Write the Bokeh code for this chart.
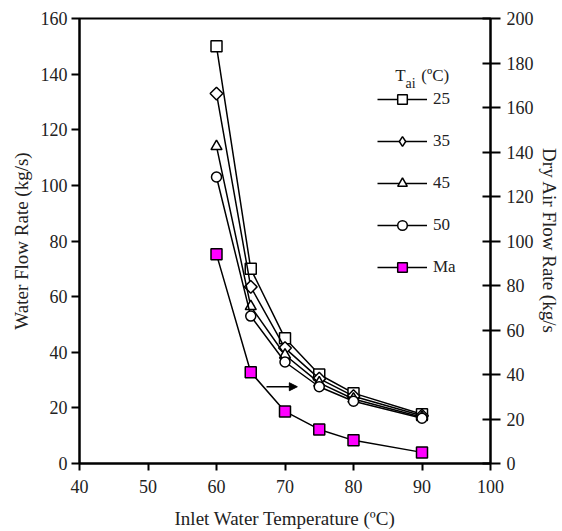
import math
from bokeh.plotting import figure
from bokeh.models import Range1d, LinearAxis, Legend, LegendItem, Label, Arrow, NormalHead, FixedTicker
from bokeh.embed import file_html
from bokeh.resources import INLINE

# Data
t_inlet = [60, 65, 70, 75, 80, 90]
w25 = [150, 70, 45, 32, 25.3, 17.7]
w35 = [133, 63.5, 41.5, 30.5, 24.2, 17.2]
w45 = [114, 56.5, 39.0, 29.0, 23.2, 16.6]
w50 = [103, 53, 36.5, 27.6, 22.4, 16.3]
ma = [94, 41, 23.4, 15.3, 10.4, 5.0]   # dry air flow rate, right axis
x_ticks = [40, 50, 60, 70, 80, 90, 100]
yl_ticks = [0, 20, 40, 60, 80, 100, 120, 140, 160]
yr_ticks = [0, 20, 40, 60, 80, 100, 120, 140, 160, 180, 200]
legend_labels = ["25", "35", "45", "50", "Ma"]

FONT = "Liberation Serif"
TXT = "#222222"
NAN = float("nan")

p = figure(width=562, height=531, output_backend="svg", toolbar_location=None,
           x_range=Range1d(40, 100), y_range=Range1d(0, 160),
           min_border_left=79, min_border_right=72, min_border_top=18, min_border_bottom=67)
p.extra_y_ranges = {"right": Range1d(0, 200)}
p.xgrid.visible = False
p.ygrid.visible = False
p.outline_line_color = "black"
p.outline_line_width = 2
p.background_fill_color = "white"
p.border_fill_color = "white"

series = [(w25, "square", 11, 0.0, "square"), (w35, "square", 9, math.pi / 4, "diamond"),
          (w45, "triangle", 11, 0.0, "triangle"), (w50, "circle", 10, 0.0, "circle")]
items = []
for (vals, marker, size, ang, leg_marker), lab in zip(series, legend_labels[:4]):
    l = p.line(t_inlet, vals, line_color="black", line_width=1.5)
    s = p.scatter(t_inlet, vals, marker=marker, size=size, angle=ang, fill_color="white",
                  line_color="black", line_width=1.5)
    if leg_marker != marker:
        # legend-only sample marker (legend samples are drawn without rotation)
        s = p.scatter(x=[NAN], y=[NAN], marker=leg_marker, size=size, fill_color="white",
                      line_color="black", line_width=1.5)
    items.append(LegendItem(label=lab, renderers=[l, s]))

lm = p.line(t_inlet, ma, line_color="black", line_width=1.5, y_range_name="right")
sm = p.scatter(t_inlet, ma, marker="square", size=11, fill_color="#ff00ff",
               line_color="black", line_width=1.5, y_range_name="right")
items.append(LegendItem(label=legend_labels[4], renderers=[lm, sm]))

def style_axis(ax):
    ax.axis_line_width = 2
    ax.major_tick_line_width = 2
    ax.minor_tick_line_color = None
    ax.major_label_text_font = FONT
    ax.major_label_text_font_size = "18px"
    ax.major_label_text_color = TXT
    ax.axis_label_text_font = FONT
    ax.axis_label_text_font_size = "19px"
    ax.axis_label_text_font_style = "normal"
    ax.axis_label_text_color = TXT

xa = p.xaxis[0]
xa.ticker = FixedTicker(ticks=x_ticks)
xa.axis_label = "Inlet Water Temperature (ºC)"
style_axis(xa)
xa.major_tick_in = 0
xa.major_tick_out = 7
xa.major_label_standoff = 9
xa.axis_label_standoff = 12

ya = p.yaxis[0]
ya.ticker = FixedTicker(ticks=yl_ticks)
ya.axis_label = "Water Flow Rate (kg/s)"
style_axis(ya)
ya.major_tick_in = 0
ya.major_tick_out = 8
ya.major_label_standoff = 4
ya.axis_label_standoff = 6

ra = LinearAxis(y_range_name="right", axis_label="Dry Air Flow Rate (kg/s")
ra.ticker = FixedTicker(ticks=yr_ticks)
style_axis(ra)
ra.major_tick_in = 8
ra.major_tick_out = 10
ra.major_label_standoff = 6
ra.axis_label_standoff = 2
p.add_layout(ra, "right")

legend = Legend(items=items, location=(298, 184), padding=0, margin=0,
                spacing=18, glyph_width=50, glyph_height=24, label_height=24,
                label_standoff=6, label_text_font=FONT, label_text_font_size="17px",
                label_text_color=TXT,
                background_fill_alpha=0, border_line_color=None)
p.add_layout(legend)

# legend title T_ai (ºC)
p.add_layout(Label(x=86.1, y=139.6, text="T", text_font=FONT, text_font_size="17px",
                   text_color=TXT, text_baseline="alphabetic"))
p.add_layout(Label(x=87.6, y=136.8, text="ai", text_font=FONT, text_font_size="14px",
                   text_color=TXT, text_baseline="alphabetic"))
p.add_layout(Label(x=89.9, y=139.6, text="(ºC)", text_font=FONT, text_font_size="17px",
                   text_color=TXT, text_baseline="alphabetic"))

# arrow pointing to the right axis
p.add_layout(Arrow(x_start=67.3, y_start=27.6, x_end=71.8, y_end=27.6,
                   line_width=1.5, line_color="black",
                   end=NormalHead(size=8, fill_color="black", line_color="black")))

open("out.html", "w").write(file_html(p, INLINE))
